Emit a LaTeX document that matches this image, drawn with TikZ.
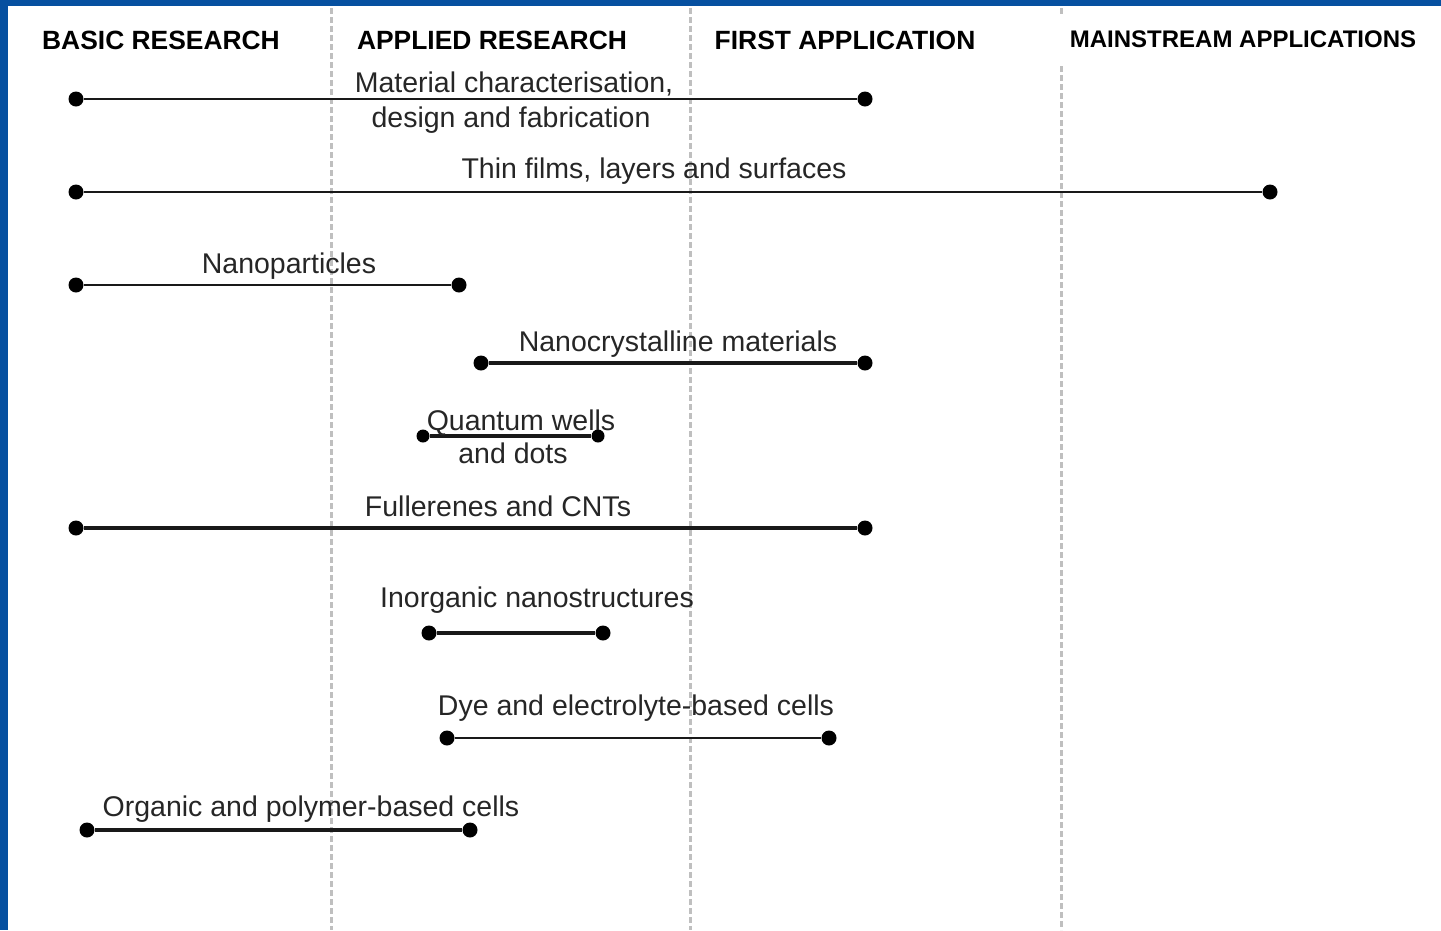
\documentclass[tikz,border=0pt]{standalone}
\usepackage{fontspec}
\setmainfont{Liberation Sans}
\definecolor{frameblue}{HTML}{0650A0}
\begin{document}
\begin{tikzpicture}[x=1pt,y=-1pt,
  phase/.style={font=\fontsize{26.4}{30}\selectfont\bfseries, text=black, anchor=base, inner sep=0pt},
  phasesmall/.style={phase, font=\fontsize{24}{28}\selectfont\bfseries},
  lbl/.style={font=\fontsize{28.5}{34}\selectfont, text=black!85, anchor=base, inner sep=0pt},
  enddot/.style={circle, fill=black, inner sep=0pt, minimum size=15pt},
  thinbar/.style={line width=2pt, black!90},
  thickbar/.style={line width=3.6pt, black!90},
  divider/.style={line width=3pt, black!25, dash pattern=on 6pt off 3pt}]
\useasboundingbox (0,0) rectangle (1441,930);
\fill[white] (0,0) rectangle (1441,930);
% frame strips
\fill[frameblue] (0,0) rectangle (1441,6);
\fill[frameblue] (0,0) rectangle (8,930);

% stage dividers
\coordinate (d1t) at (331,8);   \coordinate (d1b) at (331,930);
\coordinate (d2t) at (690,8);   \coordinate (d2b) at (690,930);
\coordinate (d3t) at (1061,8);  \coordinate (d3m) at (1061,14);
\coordinate (d3n) at (1061,66); \coordinate (d3b) at (1061,930);
\draw[divider] (d1t) -- (d1b);
\draw[divider] (d2t) -- (d2b);
\draw[divider] (d3t) -- (d3m);
\draw[divider] (d3n) -- (d3b);

% stage headings
\node[phase] (h1) at (161,49.5) {BASIC RESEARCH};
\node[phase] (h2) at (492,49.5) {APPLIED RESEARCH};
\node[phase] (h3) at (845,49.5) {FIRST APPLICATION};
\node[phasesmall] (h4) at (1243,47.5) {MAINSTREAM APPLICATIONS};

% bar end points
\node[enddot] (a1) at (76,99) {};   \node[enddot] (a2) at (865,99) {};
\node[enddot] (b1) at (76,192) {};  \node[enddot] (b2) at (1270,192) {};
\node[enddot] (c1) at (76,285) {};  \node[enddot] (c2) at (459,285) {};
\node[enddot] (e1) at (481,363) {}; \node[enddot] (e2) at (865,363) {};
\node[enddot, minimum size=13pt] (f1) at (423,436) {}; \node[enddot, minimum size=13pt] (f2) at (598,436) {};
\node[enddot] (g1) at (76,528) {};  \node[enddot] (g2) at (865,528) {};
\node[enddot] (k1) at (429,633) {}; \node[enddot] (k2) at (603,633) {};
\node[enddot] (m1) at (447,738) {}; \node[enddot] (m2) at (829,738) {};
\node[enddot] (n1) at (87,830) {};  \node[enddot] (n2) at (470,830) {};

% bars
\draw[thinbar]  (a1) -- (a2);
\draw[thinbar]  (b1) -- (b2);
\draw[thinbar]  (c1) -- (c2);
\draw[thickbar] (e1) -- (e2);
\draw[thickbar] (f1) -- (f2);
\draw[thickbar] (g1) -- (g2);
\draw[thickbar] (k1) -- (k2);
\draw[line width=2.6pt, black!90] (m1) -- (m2);
\draw[thickbar] (n1) -- (n2);

% labels
\node[lbl] (la1) at (514,92) {Material characterisation,};
\node[lbl] (la2) at (511,127) {design and fabrication};
\node[lbl] (lb) at (654,178) {Thin films, layers and surfaces};
\node[lbl] (lc) at (289,273) {Nanoparticles};
\node[lbl] (le) at (678,351) {Nanocrystalline materials};
\node[lbl] (lf1) at (521,430) {Quantum wells};
\node[lbl] (lf2) at (513,463) {and dots};
\node[lbl] (lg) at (498,516) {Fullerenes and CNTs};
\node[lbl] (lk) at (537,607) {Inorganic nanostructures};
\node[lbl] (lm) at (636,715) {Dye and electrolyte-based cells};
\node[lbl] (ln) at (311,816) {Organic and polymer-based cells};
\end{tikzpicture}
\end{document}
